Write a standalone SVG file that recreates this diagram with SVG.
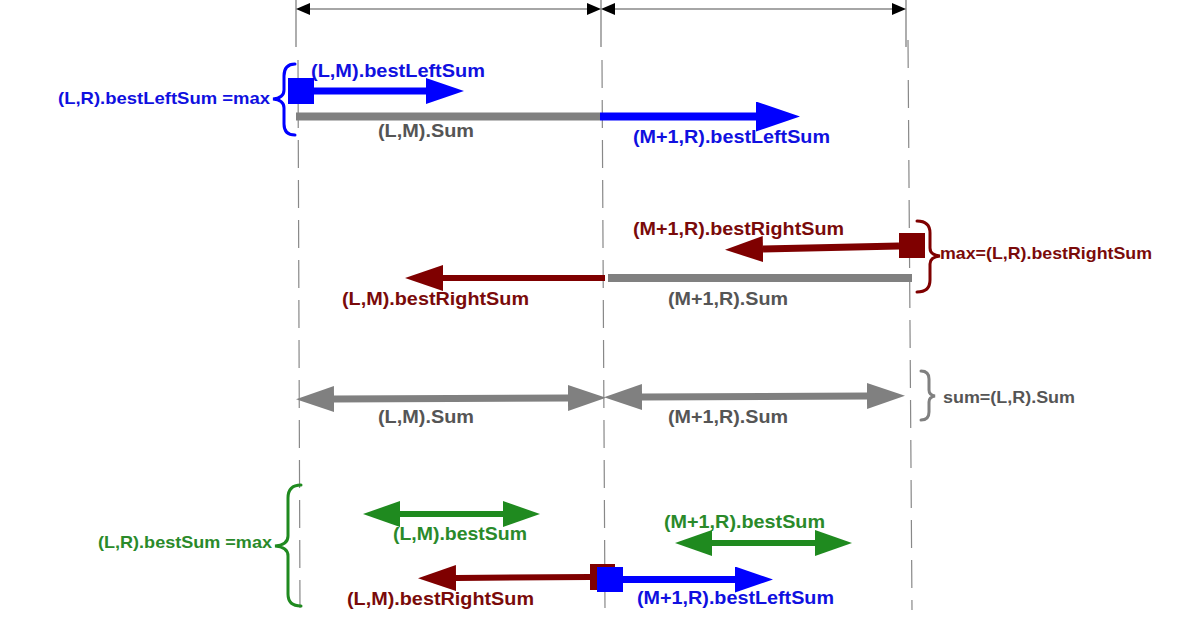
<svg xmlns="http://www.w3.org/2000/svg" width="1200" height="630" viewBox="0 0 1200 630">
<style>
text{font-family:"Liberation Sans",Arial,sans-serif;font-weight:bold;}
.b{fill:#1010e0;}
.r{fill:#7a0a0a;}
.g{fill:#2a8a2a;}
.k{fill:#555555;}
.guide{stroke:#777;stroke-width:1.2;fill:none;}
.dash{stroke:#888;stroke-width:1.2;stroke-dasharray:28 12;fill:none;}
.brace{fill:none;stroke-width:3;stroke-linecap:round;}
</style>
<defs>
<marker id="hk" viewBox="0 0 10 10" preserveAspectRatio="none" refX="0" refY="5" markerUnits="userSpaceOnUse" markerWidth="14" markerHeight="12" orient="auto-start-reverse"><path d="M0,0L10,5L0,10z" fill="#000"/></marker>
<marker id="hb" viewBox="0 0 10 10" preserveAspectRatio="none" refX="0" refY="5" markerUnits="userSpaceOnUse" markerWidth="38" markerHeight="26" orient="auto-start-reverse"><path d="M0,0L10,5L0,10z" fill="#0000ff"/></marker>
<marker id="hbL" viewBox="0 0 10 10" preserveAspectRatio="none" refX="0" refY="5" markerUnits="userSpaceOnUse" markerWidth="44" markerHeight="30" orient="auto-start-reverse"><path d="M0,0L10,5L0,10z" fill="#0000ff"/></marker>
<marker id="hr" viewBox="0 0 10 10" preserveAspectRatio="none" refX="0" refY="5" markerUnits="userSpaceOnUse" markerWidth="38" markerHeight="26" orient="auto-start-reverse"><path d="M0,0L10,5L0,10z" fill="#7f0000"/></marker>
<marker id="hgy" viewBox="0 0 10 10" preserveAspectRatio="none" refX="0" refY="5" markerUnits="userSpaceOnUse" markerWidth="38" markerHeight="26" orient="auto-start-reverse"><path d="M0,0L10,5L0,10z" fill="#808080"/></marker>
<marker id="hg" viewBox="0 0 10 10" preserveAspectRatio="none" refX="0" refY="5" markerUnits="userSpaceOnUse" markerWidth="37" markerHeight="26" orient="auto-start-reverse"><path d="M0,0L10,5L0,10z" fill="#1f8a1f"/></marker>
</defs>
<rect width="1200" height="630" fill="#ffffff"/>

<g id="guides">
<line class="guide" x1="296" y1="0" x2="296" y2="47"/>
<line class="guide" x1="601" y1="0" x2="601" y2="47"/>
<line class="guide" x1="906" y1="0" x2="906" y2="47"/>
<line class="dash" x1="298" y1="60" x2="300" y2="610"/>
<line class="dash" x1="602" y1="60" x2="605" y2="610"/>
<line class="dash" x1="908" y1="40" x2="912" y2="610"/>
</g>

<g id="connectors">
<line x1="310" y1="9" x2="587" y2="9" stroke="#888" stroke-width="1.5" marker-start="url(#hk)" marker-end="url(#hk)"/>
<line x1="615" y1="9" x2="892" y2="9" stroke="#888" stroke-width="1.5" marker-start="url(#hk)" marker-end="url(#hk)"/>
</g>

<g id="bestLeftSum">
<path class="brace" stroke="#0000ff" d="M295,64 Q284,64 284,76 L284,90 Q284,98 273,99 Q284,100 284,108 L284,124 Q284,135 295,135"/>
<rect x="288" y="78" width="26" height="26" fill="#0000ff"/>
<line x1="314" y1="91" x2="426" y2="91" stroke="#0000ff" stroke-width="7" marker-end="url(#hb)"/>
<line x1="296" y1="116.5" x2="600" y2="116.5" stroke="#808080" stroke-width="8"/>
<line x1="600" y1="116.5" x2="756" y2="116.5" stroke="#0000ff" stroke-width="8" marker-end="url(#hbL)"/>
<text class="b" x="311" y="77" font-size="19" textLength="174" lengthAdjust="spacingAndGlyphs">(L,M).bestLeftSum</text>
<text class="b" x="58" y="104" font-size="17" textLength="212" lengthAdjust="spacingAndGlyphs">(L,R).bestLeftSum =max</text>
<text class="k" x="378" y="137" font-size="19" textLength="96" lengthAdjust="spacingAndGlyphs">(L,M).Sum</text>
<text class="b" x="633" y="143" font-size="19" textLength="197" lengthAdjust="spacingAndGlyphs">(M+1,R).bestLeftSum</text>
</g>

<g id="bestRightSum">
<path class="brace" stroke="#7f0000" d="M917,221 Q930,221 930,233 L930,248 Q930,255 940,256 Q930,257 930,264 L930,280 Q930,292 917,292"/>
<rect x="899" y="233" width="26" height="25" fill="#7f0000"/>
<line x1="899" y1="246" x2="763" y2="249" stroke="#7f0000" stroke-width="7" marker-end="url(#hr)"/>
<line x1="608" y1="278" x2="912" y2="278" stroke="#808080" stroke-width="8"/>
<line x1="605" y1="278" x2="443" y2="278" stroke="#7f0000" stroke-width="6" marker-end="url(#hr)"/>
<text class="r" x="633" y="235" font-size="19" textLength="211" lengthAdjust="spacingAndGlyphs">(M+1,R).bestRightSum</text>
<text class="r" x="940" y="259" font-size="17" textLength="212" lengthAdjust="spacingAndGlyphs">max=(L,R).bestRightSum</text>
<text class="r" x="342" y="305" font-size="19" textLength="187" lengthAdjust="spacingAndGlyphs">(L,M).bestRightSum</text>
<text class="k" x="668" y="305" font-size="19" textLength="120" lengthAdjust="spacingAndGlyphs">(M+1,R).Sum</text>
</g>

<g id="sum">
<line x1="334" y1="399" x2="568" y2="398" stroke="#808080" stroke-width="7" marker-start="url(#hgy)" marker-end="url(#hgy)"/>
<line x1="642" y1="397" x2="867" y2="396" stroke="#808080" stroke-width="7" marker-start="url(#hgy)" marker-end="url(#hgy)"/>
<path class="brace" stroke="#808080" stroke-width="2.5" d="M921,371 Q929,371 929,379 L929,390 Q929,395 935,396 Q929,397 929,402 L929,412 Q929,420 921,420"/>
<text class="k" x="378" y="423" font-size="19" textLength="96" lengthAdjust="spacingAndGlyphs">(L,M).Sum</text>
<text class="k" x="668" y="423" font-size="19" textLength="120" lengthAdjust="spacingAndGlyphs">(M+1,R).Sum</text>
<text class="k" x="943" y="403" font-size="16" textLength="132" lengthAdjust="spacingAndGlyphs">sum=(L,R).Sum</text>
</g>

<g id="bestSum">
<path class="brace" stroke="#1f8a1f" d="M301,485 Q288,485 288,498 L288,536 Q288,545 275,546 Q288,547 288,556 L288,594 Q288,606 301,606"/>
<line x1="400" y1="514" x2="503" y2="514" stroke="#1f8a1f" stroke-width="6" marker-start="url(#hg)" marker-end="url(#hg)"/>
<line x1="712" y1="543" x2="815" y2="543" stroke="#1f8a1f" stroke-width="6" marker-start="url(#hg)" marker-end="url(#hg)"/>
<line x1="590" y1="577" x2="456" y2="578" stroke="#7f0000" stroke-width="6" marker-end="url(#hr)"/>
<rect x="590" y="564" width="25" height="26" fill="#7f0000"/>
<rect x="597" y="567" width="26" height="25" fill="#0000ff"/>
<line x1="623" y1="579.5" x2="735" y2="579.5" stroke="#0000ff" stroke-width="7" marker-end="url(#hb)"/>
<text class="g" x="98" y="548" font-size="17" textLength="174" lengthAdjust="spacingAndGlyphs">(L,R).bestSum =max</text>
<text class="g" x="393" y="540" font-size="19" textLength="134" lengthAdjust="spacingAndGlyphs">(L,M).bestSum</text>
<text class="g" x="664" y="528" font-size="19" textLength="161" lengthAdjust="spacingAndGlyphs">(M+1,R).bestSum</text>
<text class="r" x="347" y="605" font-size="19" textLength="187" lengthAdjust="spacingAndGlyphs">(L,M).bestRightSum</text>
<text class="b" x="637" y="604" font-size="19" textLength="197" lengthAdjust="spacingAndGlyphs">(M+1,R).bestLeftSum</text>
</g>
</svg>
